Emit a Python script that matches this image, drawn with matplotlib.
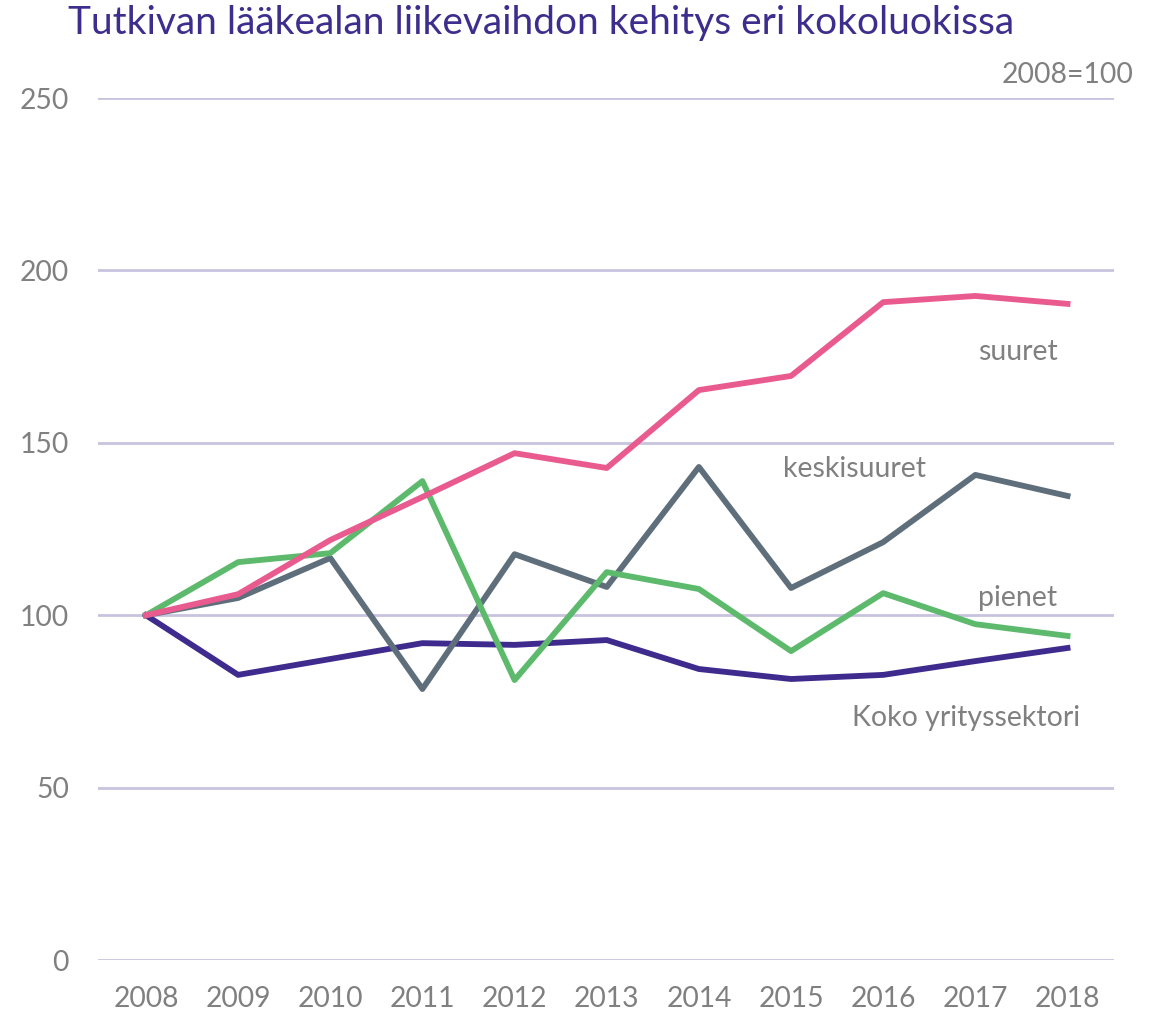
import matplotlib
matplotlib.use("Agg")
import matplotlib.pyplot as plt

years = list(range(2008, 2019))
suuret = [100, 106.1, 121.8, 134.3, 147.0, 142.7, 165.3, 169.4, 190.8, 192.6, 190.3]
keskisuuret = [100, 105.0, 116.6, 78.6, 117.7, 108.2, 143.0, 107.9, 121.2, 140.7, 134.6]
pienet = [100, 115.4, 118.0, 138.9, 81.2, 112.5, 107.6, 89.6, 106.4, 97.4, 94.0]
koko = [100, 82.7, 87.3, 91.9, 91.4, 92.8, 84.4, 81.5, 82.7, 86.7, 90.5]
yticks = [0, 50, 100, 150, 200, 250]

plt.rcParams['font.family'] = ['Lato', 'DejaVu Sans']
grey = '#808080'

fig = plt.figure(figsize=(11.6, 10.16), dpi=100)
ax = fig.add_axes([0.0845, 0.0551, 0.8755, 0.8484])

# light gridlines
for y in yticks:
    ax.axhline(y, color='#c8c3de', lw=2, zorder=0)

ax.plot(years, koko, color='#3f2b8e', lw=4.2)
ax.plot(years, keskisuuret, color='#5e6e7b', lw=4.2)
ax.plot(years, pienet, color='#5dba6c', lw=4.2)
ax.plot(years, suuret, color='#e95b8f', lw=4.2)

ax.set_xlim(2007.48, 2018.5)
ax.set_ylim(0, 250)
ax.set_xticks(years)
ax.set_yticks(yticks)
ax.tick_params(length=0, labelsize=20.3, colors=grey)
ax.tick_params(axis='x', pad=19)
ax.tick_params(axis='y', pad=21)
for s in ax.spines.values():
    s.set_visible(False)

# series labels
lab = dict(color=grey, fontsize=20.5, ha='center', va='center')
ax.text(2017.46, 176.3, 'suuret', **lab)
ax.text(2015.69, 142.4, 'keskisuuret', **lab)
ax.text(2017.46, 105, 'pienet', **lab)
ax.text(2016.9, 70.2, 'Koko yrityssektori', **lab)

fig.text(0.977, 0.926, '2008=100', color=grey, fontsize=20.4, ha='right', va='center')
fig.text(0.059, 0.977, 'Tutkivan lääkealan liikevaihdon kehitys eri kokoluokissa',
         color='#3d2e8e', fontsize=28, ha='left', va='center')

fig.savefig('out.png', dpi=100)
